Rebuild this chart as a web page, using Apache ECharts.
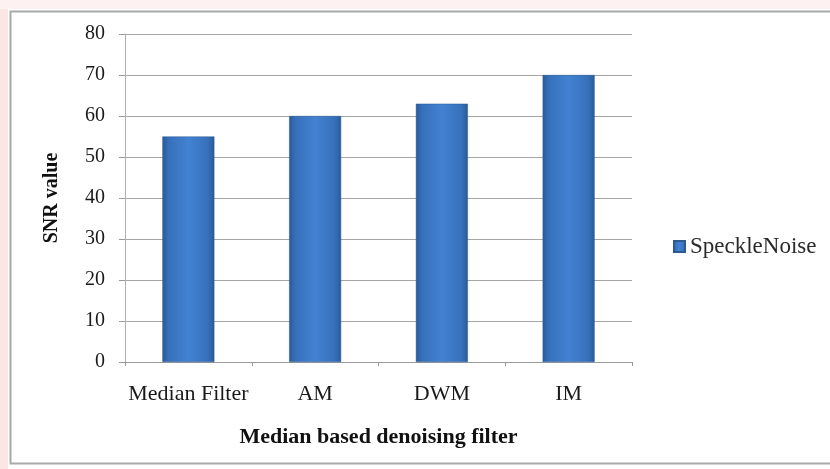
<!DOCTYPE html>
<html>
<head>
<meta charset="utf-8">
<script src="https://cdn.jsdelivr.net/npm/echarts@6/dist/echarts.min.js"></script>
<style>
html, body { margin: 0; padding: 0; background: #ffffff; }
#chart { width: 830px; height: 469px; }
</style>
</head>
<body>
<div id="chart"></div>
<script>
// Filter names on the category axis
const categories = ['Median Filter', 'AM', 'DWM', 'IM'];
// SNR obtained for speckle noise with each filter
const speckleNoise = [55, 60, 63, 70];
const seriesName = 'SpeckleNoise';
const yTicks = { min: 0, max: 80, interval: 10 };

const serif = '"Liberation Serif", "DejaVu Serif", serif';

const barFill = new echarts.graphic.LinearGradient(0, 0, 1, 0, [
  { offset: 0, color: '#2a5a98' },
  { offset: 0.12, color: '#3670ba' },
  { offset: 0.5, color: '#4282d2' },
  { offset: 0.88, color: '#3670ba' },
  { offset: 1, color: '#2a5a98' }
]);

const chart = echarts.init(document.getElementById('chart'), null, { renderer: 'canvas' });
chart.setOption({
  backgroundColor: '#ffffff',
  animation: false,
  graphic: [
    { type: 'rect', left: 0, top: 0, shape: { width: 8, height: 469 }, style: { fill: '#fbe6e6' }, silent: true },
    { type: 'rect', left: 0, top: 0, shape: { width: 830, height: 9 }, style: { fill: '#fdf1f1' }, silent: true },
    { type: 'rect', left: 8, top: 9, shape: { width: 830, height: 452 },
      style: { fill: 'none', stroke: '#a9a9a9', lineWidth: 2 }, silent: true }
  ],
  grid: { left: 125, right: 198, top: 34, bottom: 107 },
  legend: {
    data: [seriesName],
    orient: 'vertical',
    left: 668, top: 230,
    itemWidth: 11, itemHeight: 11, itemGap: 4,
    icon: 'rect',
    textStyle: { fontFamily: serif, fontSize: 23, color: '#2a2a2a' }
  },
  xAxis: {
    type: 'category',
    data: categories,
    name: 'Median based denoising filter',
    nameLocation: 'middle',
    nameGap: 64,
    nameTextStyle: { fontFamily: serif, fontSize: 22, fontWeight: 'bold', color: '#111111' },
    axisLine: { lineStyle: { color: '#9a9a9a', width: 1 } },
    axisTick: { show: true, alignWithLabel: false, length: 4, lineStyle: { color: '#9a9a9a' } },
    axisLabel: { interval: 0, fontFamily: serif, fontSize: 22, color: '#1a1a1a', margin: 21 }
  },
  yAxis: {
    type: 'value',
    min: yTicks.min, max: yTicks.max, interval: yTicks.interval,
    name: 'SNR value',
    nameLocation: 'middle',
    nameGap: 63,
    nameTextStyle: { fontFamily: serif, fontSize: 20, fontWeight: 'bold', color: '#111111' },
    axisLine: { show: true, lineStyle: { color: '#b0b0b0', width: 1 } },
    axisTick: { show: true, length: 6, lineStyle: { color: '#9a9a9a' } },
    axisLabel: { fontFamily: serif, fontSize: 20, color: '#1a1a1a', margin: 20 },
    splitLine: { lineStyle: { color: '#a6a6a6', width: 1 } }
  },
  series: [{
    name: seriesName,
    type: 'bar',
    data: speckleNoise,
    barWidth: 52,
    itemStyle: {
      color: barFill,
      borderColor: '#2c5a93',
      borderWidth: 0.5
    },
    emphasis: { disabled: true }
  }]
});
</script>
</body>
</html>
